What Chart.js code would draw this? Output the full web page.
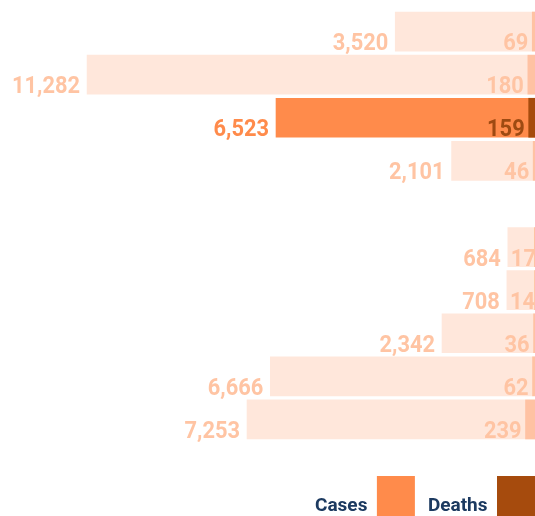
<!DOCTYPE html>
<html>
<head>
<meta charset="utf-8">
<script src="https://cdn.jsdelivr.net/npm/chart.js@4/dist/chart.umd.min.js"></script>
<style>
  html, body { margin: 0; padding: 0; background: #fff; overflow: hidden; }
  canvas { display: block; }
</style>
</head>
<body>
<canvas id="chart" width="535" height="516"></canvas>
<script>
// rows top to bottom; the empty entry is the gap between the two groups
const rows   = ["1", "2", "3", "4", "", "5", "6", "7", "8", "9"];
const cases  = [3520, 11282, 6523, 2101, null, 684, 708, 2342, 6666, 7253];
const deaths = [69, 180, 159, 46, null, 17, 14, 36, 62, 239];
const highlight = 2;   // the row drawn in full colour

const COL = {
  casesLight: "#FFE7DB", casesHi: "#FF8B4B",
  deathsLight: "#FFC2A3", deathsHi: "#A64B0D",
  labelLight: "#FFC4A3", labelDeathsHi: "#9E4A12",
  legend: "#1C3A60"
};
const SX = 0.95;   // squeeze labels a little, the original uses a condensed face

function drawRight(ctx, text, xRight, y) {
  ctx.save();
  ctx.translate(xRight, y);
  ctx.scale(SX, 1);
  ctx.textAlign = "right";
  ctx.fillText(text, 0, 0);
  ctx.restore();
}

// value labels: cases left of its bar, deaths inside the cases bar next to the deaths bar
const valueLabels = {
  id: "valueLabels",
  afterDatasetsDraw(chart) {
    const ctx = chart.ctx;
    const dMeta = chart.getDatasetMeta(0), cMeta = chart.getDatasetMeta(1);
    ctx.save();
    ctx.font = "bold 23px Roboto";
    ctx.textBaseline = "alphabetic";
    cases.forEach((v, i) => {
      if (v == null) return;
      const c = cMeta.data[i].getProps(["x", "y", "height"], true);
      const d = dMeta.data[i].getProps(["x"], true);
      const y = c.y + c.height / 2 - 1;
      const hi = i === highlight;

      ctx.fillStyle = hi ? COL.casesHi : COL.labelLight;
      drawRight(ctx, v.toLocaleString("en-US"), c.x - 7, y);

      const t = String(deaths[i]);
      const w = ctx.measureText(t).width * SX;
      let end = d.x - 4;
      if (end - w < c.x + 3) end = c.x + 3 + w;
      ctx.fillStyle = hi ? COL.labelDeathsHi : COL.labelLight;
      drawRight(ctx, t, end, y);
    });
    ctx.restore();
  }
};

new Chart(document.getElementById("chart"), {
  type: "bar",
  data: {
    labels: rows,
    datasets: [
      { label: "Deaths", data: deaths, grouped: false, barThickness: 39,
        backgroundColor: deaths.map((v, i) => i === highlight ? COL.deathsHi : COL.deathsLight) },
      { label: "Cases", data: cases, grouped: false, barThickness: 39,
        backgroundColor: cases.map((v, i) => i === highlight ? COL.casesHi : COL.casesLight) }
    ]
  },
  options: {
    indexAxis: "y",
    responsive: false,
    animation: false,
    // legend runs past the right and bottom edges, like the original
    layout: { padding: { top: 10, left: 0, right: -13, bottom: -30 } },
    scales: {
      x: { display: false, reverse: true, min: 0, max: 13475 },
      y: { display: false }
    },
    plugins: {
      tooltip: { enabled: false },
      legend: {
        position: "bottom",
        align: "start",
        rtl: true,
        title: { display: true, text: " ", font: { size: 10, lineHeight: 1 }, padding: { top: 12, bottom: 0 } },
        labels: {
          boxWidth: 38, boxHeight: 60, padding: 13,
          color: COL.legend,
          font: { family: "Roboto", weight: "bold", size: 19 },
          generateLabels: () => [
            { text: "Deaths", fillStyle: COL.deathsHi, strokeStyle: COL.deathsHi, fontColor: COL.legend, lineWidth: 0, datasetIndex: 0 },
            { text: "Cases", fillStyle: COL.casesHi, strokeStyle: COL.casesHi, fontColor: COL.legend, lineWidth: 0, datasetIndex: 1 }
          ]
        }
      }
    }
  },
  plugins: [valueLabels]
});
</script>
</body>
</html>
